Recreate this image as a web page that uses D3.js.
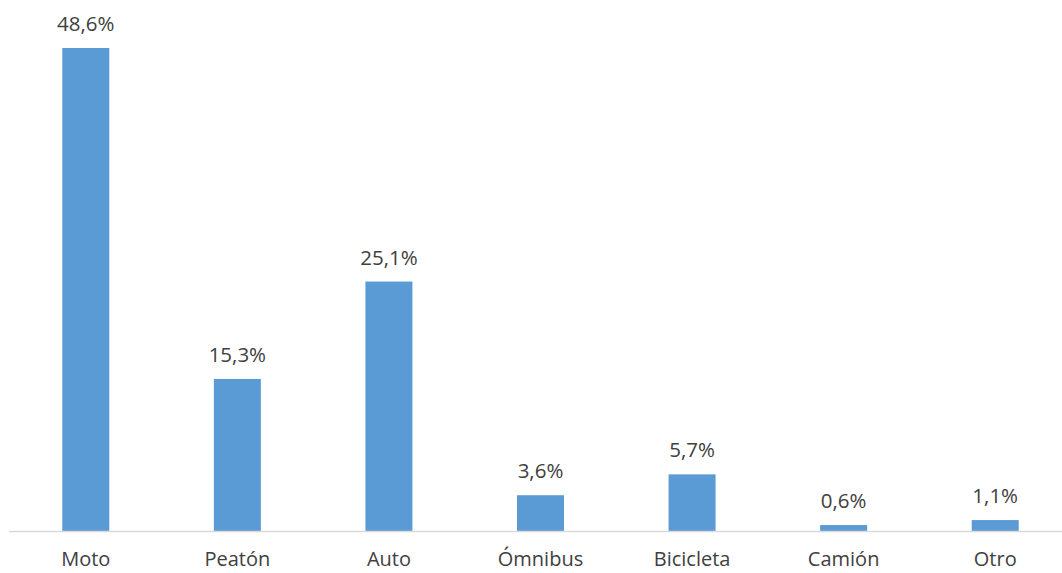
<!DOCTYPE html>
<html>
<head>
<meta charset="utf-8">
<script src="https://cdn.jsdelivr.net/npm/d3@7"></script>
<style>
  body { margin: 0; background: #ffffff; }
  svg { display: block; }
</style>
</head>
<body>
<svg id="canvas"></svg>
<script>
// Chart data.
var categories = ['Moto', 'Peatón', 'Auto', 'Ómnibus', 'Bicicleta', 'Camión', 'Otro'];
var values = [48.6, 15.3, 25.1, 3.6, 5.7, 0.6, 1.1];
var valueLabels = ['48,6%', '15,3%', '25,1%', '3,6%', '5,7%', '0,6%', '1,1%'];

// Canvas settings.
var canvas = {
  dim: { w: 1062, h: 573 },
  baseline: 531,
  colours: { bar: '#5b9bd5', axis: '#d9d9d9', text: '#404040' }
};

var svg = d3.select('#canvas')
            .attr('width', canvas.dim.w)
            .attr('height', canvas.dim.h);

// Scales.
var x = d3.scaleBand()
          .domain(categories)
          .range([10, 1071])
          .paddingInner(0.69)
          .paddingOuter(0.345);

var y = d3.scaleLinear()
          .domain([0, 48.6])
          .range([canvas.baseline, 48]);

// Bars.
svg.append('g')
   .selectAll('rect')
   .data(values)
   .enter()
   .append('rect')
   .attr('x', function(d, i) { return x(categories[i]); })
   .attr('y', function(d) { return y(d); })
   .attr('width', x.bandwidth())
   .attr('height', function(d) { return canvas.baseline - y(d); })
   .attr('fill', canvas.colours.bar);

// Axis line.
svg.append('line')
   .attr('x1', 9)
   .attr('x2', canvas.dim.w)
   .attr('y1', canvas.baseline + 0.5)
   .attr('y2', canvas.baseline + 0.5)
   .attr('stroke', canvas.colours.axis)
   .attr('stroke-width', 1.5);

// Value labels.
svg.append('g')
   .selectAll('text')
   .data(values)
   .enter()
   .append('text')
   .attr('x', function(d, i) { return x(categories[i]) + x.bandwidth() / 2; })
   .attr('y', function(d) { return y(d) - 17; })
   .attr('text-anchor', 'middle')
   .attr('font-family', 'Open Sans, sans-serif')
   .attr('font-size', 20.5)
   .attr('fill', canvas.colours.text)
   .text(function(d, i) { return valueLabels[i]; });

// Category labels.
svg.append('g')
   .selectAll('text')
   .data(categories)
   .enter()
   .append('text')
   .attr('x', function(d) { return x(d) + x.bandwidth() / 2; })
   .attr('y', 566)
   .attr('text-anchor', 'middle')
   .attr('font-family', 'Open Sans, sans-serif')
   .attr('font-size', 20)
   .attr('fill', canvas.colours.text)
   .text(function(d) { return d; });
</script>
</body>
</html>
